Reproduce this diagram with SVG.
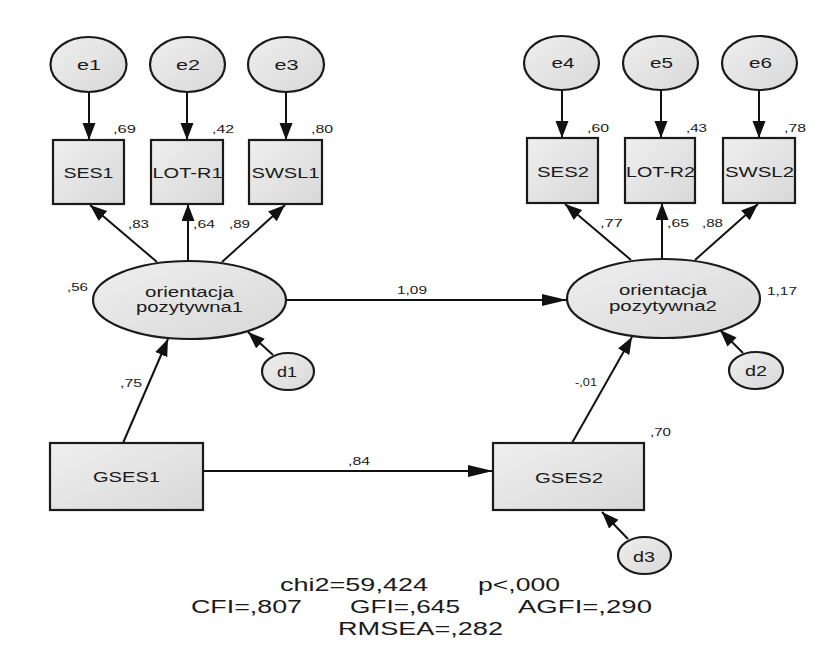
<svg xmlns="http://www.w3.org/2000/svg" width="828" height="661" viewBox="0 0 828 661">
<style>
text{font-family:"Liberation Sans",Arial,sans-serif;fill:#1a1a1a}
.lb{font-size:15px;text-anchor:middle}
.lt{font-size:14px;text-anchor:middle}
.sm{font-size:10.5px}
.st{font-size:18px}
.shape{fill:url(#g);stroke:#1a1a1a;stroke-width:2.2}
.c{stroke:#111;stroke-width:2;fill:none}
</style>
<defs>
<linearGradient id="g" x1="0" y1="0" x2="1" y2="1"><stop offset="0" stop-color="#efefef"/><stop offset="1" stop-color="#d8d8d8"/></linearGradient>
<marker id="a" markerUnits="userSpaceOnUse" markerWidth="18" markerHeight="14" refX="17" refY="6.5" orient="auto"><path d="M0,0 L17,6.5 L0,13 z" fill="#111"/></marker>
<marker id="ah" markerUnits="userSpaceOnUse" markerWidth="26" markerHeight="13" refX="25" refY="6" orient="auto"><path d="M0,0 L25,6 L0,12 z" fill="#111"/></marker>
</defs>
<rect width="828" height="661" fill="#fff"/>
<g id="connectors">
<line class="c" x1="89" y1="92" x2="89" y2="140" marker-end="url(#a)"/>
<line class="c" x1="187" y1="92" x2="187" y2="140" marker-end="url(#a)"/>
<line class="c" x1="286" y1="92" x2="286" y2="140" marker-end="url(#a)"/>
<line class="c" x1="562" y1="90" x2="562" y2="138" marker-end="url(#a)"/>
<line class="c" x1="661" y1="90" x2="661" y2="138" marker-end="url(#a)"/>
<line class="c" x1="759" y1="90" x2="759" y2="138" marker-end="url(#a)"/>
<line class="c" x1="157" y1="262" x2="90" y2="205" marker-end="url(#a)"/>
<line class="c" x1="188" y1="261" x2="188" y2="204" marker-end="url(#a)"/>
<line class="c" x1="222" y1="262" x2="285" y2="205" marker-end="url(#a)"/>
<line class="c" x1="631" y1="260" x2="565" y2="204" marker-end="url(#a)"/>
<line class="c" x1="662" y1="259" x2="662" y2="203" marker-end="url(#a)"/>
<line class="c" x1="695" y1="260" x2="758" y2="204" marker-end="url(#a)"/>
<line class="c" x1="286" y1="300" x2="567" y2="300" marker-end="url(#ah)"/>
<line class="c" x1="123" y1="443" x2="168" y2="339" marker-end="url(#a)"/>
<line class="c" x1="273" y1="355" x2="248" y2="332" marker-end="url(#a)"/>
<line class="c" x1="572" y1="443" x2="632" y2="337" marker-end="url(#a)"/>
<line class="c" x1="743" y1="353" x2="720" y2="330" marker-end="url(#a)"/>
<line class="c" x1="203" y1="471" x2="493" y2="471" marker-end="url(#ah)"/>
<line class="c" x1="628" y1="539" x2="602" y2="512" marker-end="url(#a)"/>
</g>
<g id="e1"><ellipse class="shape" cx="88.5" cy="64.5" rx="38" ry="27.5"/><text class="lb" x="89" y="70" textLength="24" lengthAdjust="spacingAndGlyphs">e1</text></g>
<g id="e2"><ellipse class="shape" cx="187.5" cy="64.5" rx="37.5" ry="27.5"/><text class="lb" x="188" y="70" textLength="24" lengthAdjust="spacingAndGlyphs">e2</text></g>
<g id="e3"><ellipse class="shape" cx="286" cy="64.5" rx="38" ry="27.5"/><text class="lb" x="286.5" y="70" textLength="24" lengthAdjust="spacingAndGlyphs">e3</text></g>
<g id="e4"><ellipse class="shape" cx="561.5" cy="63" rx="37.5" ry="27"/><text class="lb" x="563" y="68" textLength="23" lengthAdjust="spacingAndGlyphs">e4</text></g>
<g id="e5"><ellipse class="shape" cx="660.5" cy="63" rx="37.5" ry="27"/><text class="lb" x="661.5" y="68" textLength="23" lengthAdjust="spacingAndGlyphs">e5</text></g>
<g id="e6"><ellipse class="shape" cx="759.5" cy="63" rx="37.5" ry="27"/><text class="lb" x="760.5" y="68" textLength="23" lengthAdjust="spacingAndGlyphs">e6</text></g>
<g id="SES1"><rect class="shape" x="53" y="140" width="71" height="64"/><text class="lb" x="88.5" y="178" textLength="50" lengthAdjust="spacingAndGlyphs">SES1</text><text class="sm" x="113" y="133" textLength="23" lengthAdjust="spacingAndGlyphs">,69</text></g>
<g id="LOT-R1"><rect class="shape" x="151" y="140" width="72" height="64"/><text class="lb" x="187.5" y="178" textLength="70" lengthAdjust="spacingAndGlyphs">LOT-R1</text><text class="sm" x="212" y="133" textLength="22" lengthAdjust="spacingAndGlyphs">,42</text></g>
<g id="SWSL1"><rect class="shape" x="249" y="140" width="73" height="64"/><text class="lb" x="285.5" y="178" textLength="68" lengthAdjust="spacingAndGlyphs">SWSL1</text><text class="sm" x="311" y="133" textLength="22" lengthAdjust="spacingAndGlyphs">,80</text></g>
<g id="SES2"><rect class="shape" x="527" y="138" width="71" height="65"/><text class="lb" x="563" y="177" textLength="52" lengthAdjust="spacingAndGlyphs">SES2</text><text class="sm" x="587" y="132" textLength="22" lengthAdjust="spacingAndGlyphs">,60</text></g>
<g id="LOT-R2"><rect class="shape" x="625" y="138" width="70" height="65"/><text class="lb" x="660.5" y="177" textLength="69" lengthAdjust="spacingAndGlyphs">LOT-R2</text><text class="sm" x="686" y="132" textLength="21" lengthAdjust="spacingAndGlyphs">,43</text></g>
<g id="SWSL2"><rect class="shape" x="723" y="138" width="72" height="65"/><text class="lb" x="759.5" y="177" textLength="69" lengthAdjust="spacingAndGlyphs">SWSL2</text><text class="sm" x="784" y="132" textLength="22" lengthAdjust="spacingAndGlyphs">,78</text></g>
<g id="orientacja1"><ellipse class="shape" cx="189.5" cy="300" rx="96.5" ry="39"/><text class="lt" x="189.5" y="297" textLength="89" lengthAdjust="spacingAndGlyphs">orientacja</text><text class="lt" x="189.5" y="312" textLength="107" lengthAdjust="spacingAndGlyphs">pozytywna1</text><text class="sm" x="67" y="291" textLength="21" lengthAdjust="spacingAndGlyphs">,56</text></g>
<g id="orientacja2"><ellipse class="shape" cx="663.5" cy="298.5" rx="96.5" ry="39.5"/><text class="lt" x="663" y="295" textLength="88" lengthAdjust="spacingAndGlyphs">orientacja</text><text class="lt" x="663" y="311" textLength="108" lengthAdjust="spacingAndGlyphs">pozytywna2</text><text class="sm" x="767" y="295" textLength="30" lengthAdjust="spacingAndGlyphs">1,17</text></g>
<g id="d1"><ellipse class="shape" cx="288" cy="371.5" rx="26" ry="18.5"/><text class="lb" x="287" y="377" textLength="20" lengthAdjust="spacingAndGlyphs">d1</text></g>
<g id="d2"><ellipse class="shape" cx="756" cy="370.5" rx="27" ry="18.5"/><text class="lb" x="756" y="376" textLength="22" lengthAdjust="spacingAndGlyphs">d2</text></g>
<g id="GSES1"><rect class="shape" x="50" y="443" width="153" height="67"/><text class="lb" x="126.5" y="482" textLength="67" lengthAdjust="spacingAndGlyphs">GSES1</text></g>
<g id="GSES2"><rect class="shape" x="493" y="443" width="151" height="67"/><text class="lb" x="569" y="483" textLength="68" lengthAdjust="spacingAndGlyphs">GSES2</text><text class="sm" x="650" y="436" textLength="21" lengthAdjust="spacingAndGlyphs">,70</text></g>
<g id="d3"><ellipse class="shape" cx="644.5" cy="555.5" rx="26.5" ry="18.5"/><text class="lb" x="644" y="562" textLength="22" lengthAdjust="spacingAndGlyphs">d3</text></g>
<g id="path-labels">
<text class="sm" x="128" y="228" textLength="21" lengthAdjust="spacingAndGlyphs">,83</text>
<text class="sm" x="193" y="228" textLength="22" lengthAdjust="spacingAndGlyphs">,64</text>
<text class="sm" x="229" y="228" textLength="21" lengthAdjust="spacingAndGlyphs">,89</text>
<text class="sm" x="600" y="227" textLength="23" lengthAdjust="spacingAndGlyphs">,77</text>
<text class="sm" x="667" y="227" textLength="22" lengthAdjust="spacingAndGlyphs">,65</text>
<text class="sm" x="702" y="227" textLength="21" lengthAdjust="spacingAndGlyphs">,88</text>
<text class="sm" x="397" y="294" textLength="30" lengthAdjust="spacingAndGlyphs">1,09</text>
<text class="sm" x="120" y="387" textLength="22" lengthAdjust="spacingAndGlyphs">,75</text>
<text class="sm" x="575" y="386" textLength="22" lengthAdjust="spacingAndGlyphs">-,01</text>
<text class="sm" x="348" y="465" textLength="22" lengthAdjust="spacingAndGlyphs">,84</text>
</g>
<g id="fit-statistics">
<text class="st" x="280" y="591" textLength="148" lengthAdjust="spacingAndGlyphs">chi2=59,424</text>
<text class="st" x="478" y="591" textLength="82" lengthAdjust="spacingAndGlyphs">p&lt;,000</text>
<text class="st" x="191" y="613" textLength="111" lengthAdjust="spacingAndGlyphs">CFI=,807</text>
<text class="st" x="350" y="613" textLength="110" lengthAdjust="spacingAndGlyphs">GFI=,645</text>
<text class="st" x="518" y="613" textLength="134" lengthAdjust="spacingAndGlyphs">AGFI=,290</text>
<text class="st" x="338" y="635" textLength="165" lengthAdjust="spacingAndGlyphs">RMSEA=,282</text>
</g>
</svg>
